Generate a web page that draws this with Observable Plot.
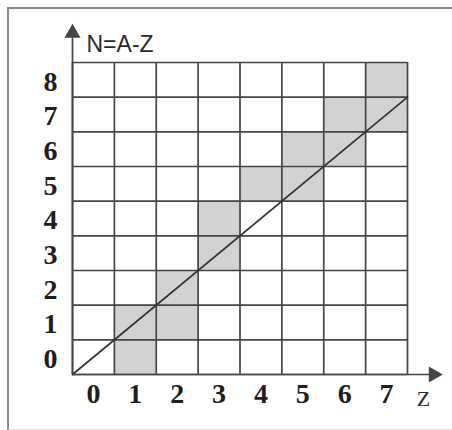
<!DOCTYPE html>
<html>
<head>
<meta charset="utf-8">
<script src="https://cdn.jsdelivr.net/npm/d3@7"></script>
<script src="https://cdn.jsdelivr.net/npm/@observablehq/plot@0.6"></script>
<style>
  html, body { margin: 0; padding: 0; background: #fff; }
  #wrap { position: relative; width: 452px; height: 430px; overflow: hidden; }
  #frame { position: absolute; left: 7px; top: 7px; width: 460px; height: 420px;
           border-left: 2px solid #8a8a8a; border-top: 2px solid #8a8a8a; border-bottom: 1px solid #d8d8d8; }
  #wrap svg { position: absolute; left: 0; top: 0; }
</style>
</head>
<body>
<div id="wrap"><div id="frame"></div></div>
<script>
// Shaded cells (Z column, N row)
const cellZ = [1, 1, 2, 2, 3, 3, 4, 5, 5, 6, 6, 7, 7];
const cellN = [0, 1, 1, 2, 3, 4, 5, 5, 6, 6, 7, 7, 8];
// Tick labels
const zTicks = [0, 1, 2, 3, 4, 5, 6, 7];
const nTicks = [0, 1, 2, 3, 4, 5, 6, 7, 8];
// Diagonal N = Z line
const diagZ = [0, 8];
const diagN = [0, 8];
// Axis titles
const yTitle = "N=A-Z";
const xTitle = "Z";

const zMax = zTicks.length;      // 8 columns
const nMax = nTicks.length;      // 9 rows
const cells = cellZ.map((z, i) => ({z, n: cellN[i]}));
const diag = diagZ.map((z, i) => ({z, n: diagN[i]}));
const vLines = d3.range(0, zMax + 1);
const hLines = d3.range(0, nMax + 1);
const ink = "#454545";

const chart = Plot.plot({
  width: 452,
  height: 430,
  marginLeft: 72,
  marginRight: 45,
  marginTop: 62,
  marginBottom: 56,
  x: {domain: [0, zMax], axis: null},
  y: {domain: [0, nMax], axis: null},
  style: {background: "transparent"},
  marks: [
    Plot.rect(cells, {x1: "z", x2: d => d.z + 1, y1: "n", y2: d => d.n + 1, fill: "#d2d2d2"}),
    Plot.ruleX(vLines, {x: d => d, y1: 0, y2: nMax, stroke: ink, strokeWidth: 1.7}),
    Plot.ruleY(hLines, {y: d => d, x1: 0, x2: zMax, stroke: ink, strokeWidth: 1.7}),
    Plot.line(diag, {x: "z", y: "n", stroke: "#333", strokeWidth: 1.7}),
    // axes with arrowheads
    Plot.ruleX([0], {y1: 0, y2: nMax + 0.85, stroke: ink, strokeWidth: 1.7}),
    Plot.ruleY([0], {x1: 0, x2: zMax + 0.6, stroke: ink, strokeWidth: 1.7}),
    Plot.dot([0], {x: 0, y: nMax + 0.85, symbol: "triangle", r: 6, fill: ink, stroke: "none"}),
    Plot.dot([0], {x: zMax + 0.62, y: 0, symbol: "triangle", rotate: 90, r: 6, fill: ink, stroke: "none"}),
    // tick labels
    Plot.text(zTicks, {x: d => d + 0.5, y: 0, dy: 20, text: d => String(d),
      fontFamily: "Liberation Serif", fontWeight: "bold", fontSize: 28, fill: "#1e1e1e"}),
    Plot.text(nTicks, {x: 0, y: d => d + 0.5, dx: -22, dy: 2, text: d => String(d),
      fontFamily: "Liberation Serif", fontWeight: "bold", fontSize: 28, fill: "#1e1e1e"}),
    // axis titles
    Plot.text([yTitle], {x: 0, y: nMax, dx: 14, dy: -18, text: d => d, textAnchor: "start",
      fontFamily: "Liberation Sans", fontSize: 23, fill: "#2a2a2a"}),
    Plot.text([xTitle], {x: zMax, y: 0, dx: 16, dy: 24, text: d => d,
      fontFamily: "Liberation Serif", fontSize: 22, fill: "#2a2a2a"})
  ]
});
document.getElementById("wrap").appendChild(chart);
</script>
</body>
</html>
